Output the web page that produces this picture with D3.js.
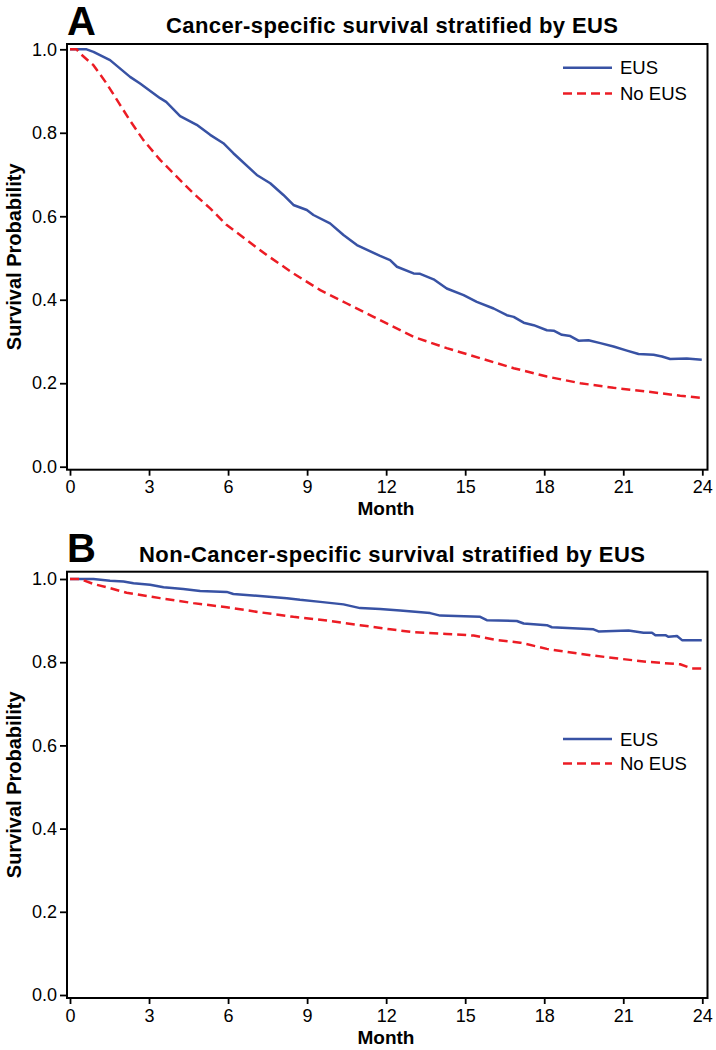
<!DOCTYPE html>
<html>
<head>
<meta charset="utf-8">
<script src="https://cdn.jsdelivr.net/npm/d3@7"></script>
<style>
  html, body { margin: 0; padding: 0; background: #fff; }
  svg { display: block; }
  text { font-family: "Liberation Sans", Arial, Helvetica, sans-serif; fill: #000; }
</style>
</head>
<body>
<svg id="chart" width="716" height="1050"></svg>
<script>
// ---------------- DATA ----------------
const xTicks = [0, 3, 6, 9, 12, 15, 18, 21, 24];
const yTicks = [0.0, 0.2, 0.4, 0.6, 0.8, 1.0];
const seriesNames = ["EUS", "No EUS"];
const panelLetters = ["A", "B"];
const panelTitles = ["Cancer-specific survival stratified by EUS", "Non-Cancer-specific survival stratified by EUS"];
const xLabel = "Month";
const yLabel = "Survival Probability";

// Panel A: cancer-specific survival
const csMonthsEUS = [0, 0.63, 0.89, 1.52, 2.28, 2.66, 3.42, 3.65, 4.18, 4.81, 5.32, 5.82, 6.20, 7.09, 7.60, 8.10, 8.48, 8.99, 9.24, 9.87, 10.38, 10.89, 11.77, 12.15, 12.41, 13.04, 13.29, 13.80, 14.30, 14.94, 15.44, 16.08, 16.58, 16.84, 17.22, 17.60, 18.10, 18.36, 18.67, 18.99, 19.30, 19.68, 20.13, 20.63, 21.14, 21.58, 22.15, 22.47, 22.78, 23.41, 23.98];
const csSurvEUS   = [1, 1, 0.994, 0.974, 0.934, 0.918, 0.883, 0.874, 0.840, 0.819, 0.795, 0.775, 0.751, 0.699, 0.679, 0.651, 0.627, 0.615, 0.603, 0.583, 0.555, 0.531, 0.505, 0.495, 0.479, 0.463, 0.462, 0.449, 0.427, 0.411, 0.395, 0.379, 0.363, 0.359, 0.345, 0.339, 0.327, 0.326, 0.316, 0.313, 0.302, 0.303, 0.296, 0.288, 0.278, 0.270, 0.268, 0.264, 0.258, 0.259, 0.256];
const csMonthsNo  = [0, 0.25, 0.38, 0.89, 1.39, 1.90, 2.28, 2.78, 3.42, 4.05, 4.68, 5.32, 5.95, 6.71, 7.47, 8.48, 9.50, 10.51, 11.52, 12.15, 13.04, 14.30, 15.57, 16.84, 18.10, 19.37, 20.63, 21.90, 23.16, 23.98];
const csSurvNo    = [1, 1, 0.990, 0.962, 0.918, 0.867, 0.829, 0.783, 0.735, 0.695, 0.655, 0.619, 0.579, 0.543, 0.507, 0.463, 0.423, 0.391, 0.359, 0.339, 0.311, 0.284, 0.260, 0.236, 0.216, 0.200, 0.189, 0.180, 0.170, 0.165];

// Panel B: non-cancer-specific survival
const ncsMonthsEUS = [0, 0.89, 1.52, 2.03, 2.41, 3.04, 3.55, 4.30, 4.94, 5.95, 6.20, 7.21, 8.23, 8.73, 9.50, 10.38, 11.01, 11.77, 12.53, 13.67, 14.05, 15.57, 15.82, 16.96, 17.22, 18.10, 18.29, 19.87, 20.06, 21.20, 21.77, 22.09, 22.22, 22.60, 22.72, 23.04, 23.23, 23.98];
const ncsSurvEUS   = [1, 1, 0.996, 0.994, 0.990, 0.986, 0.980, 0.976, 0.971, 0.969, 0.964, 0.959, 0.954, 0.950, 0.945, 0.939, 0.930, 0.928, 0.924, 0.918, 0.912, 0.909, 0.901, 0.899, 0.893, 0.889, 0.884, 0.879, 0.874, 0.876, 0.871, 0.871, 0.865, 0.865, 0.861, 0.863, 0.853, 0.853];
const ncsMonthsNo  = [0, 0.38, 0.89, 1.52, 2.15, 3.42, 4.68, 5.95, 7.21, 8.48, 9.75, 11.01, 12.15, 13.04, 14.30, 15.32, 16.20, 17.09, 18.10, 19.37, 20.63, 21.90, 23.16, 23.60, 23.98];
const ncsSurvNo    = [1, 1, 0.988, 0.978, 0.967, 0.954, 0.942, 0.932, 0.920, 0.909, 0.900, 0.889, 0.879, 0.872, 0.868, 0.864, 0.853, 0.847, 0.832, 0.820, 0.810, 0.801, 0.795, 0.785, 0.785];

// ---------------- LAYOUT ----------------
const colors = ["#3852a4", "#ec1c24"];
const dashes = [null, "9,5"];

const panels = [
  { letter: panelLetters[0], title: panelTitles[0], titleLen: 452,
    series: [d3.zip(csMonthsEUS, csSurvEUS), d3.zip(csMonthsNo, csSurvNo)],
    frameTop: 44, frameBottom: 469.7, yRange: [466.7, 49.3],
    titleY: 33, letterY: 35, legendY: [67.7, 93.5] },
  { letter: panelLetters[1], title: panelTitles[1], titleLen: 506,
    series: [d3.zip(ncsMonthsEUS, ncsSurvEUS), d3.zip(ncsMonthsNo, ncsSurvNo)],
    frameTop: 571.7, frameBottom: 998, yRange: [995, 579],
    titleY: 561.5, letterY: 561.5, legendY: [739, 763.5] }
];

const frameLeft = 67, frameRight = 707.5;
const x = d3.scaleLinear().domain([0, 24]).range([70, 702.3]);

const svg = d3.select("#chart");

panels.forEach(p => {
  const y = d3.scaleLinear().domain([0, 1]).range(p.yRange);
  const g = svg.append("g");

  // letter
  g.append("text").attr("x", 67).attr("y", p.letterY)
    .attr("font-size", 40).attr("font-weight", "bold").text(p.letter);
  // title
  g.append("text").attr("x", 392).attr("y", p.titleY)
    .attr("text-anchor", "middle").attr("font-size", 22).attr("font-weight", "bold")
    .attr("textLength", p.titleLen).attr("lengthAdjust", "spacing").text(p.title);

  // curves
  const line = d3.line().x(d => x(d[0])).y(d => y(d[1]));
  p.series.forEach((s, i) => {
    g.append("path").datum(s).attr("d", line)
      .attr("fill", "none").attr("stroke", colors[i]).attr("stroke-width", 2.5)
      .attr("stroke-linejoin", "round")
      .attr("stroke-dasharray", dashes[i]);
  });

  // axes
  const yAxis = d3.axisLeft(y).tickValues(yTicks).tickFormat(d3.format(".1f")).tickSize(7).tickPadding(3);
  const ya = g.append("g").attr("transform", `translate(${frameLeft},0)`).call(yAxis);
  const xAxis = d3.axisBottom(x).tickValues(xTicks).tickFormat(d3.format("d")).tickSize(6).tickPadding(5);
  const xa = g.append("g").attr("transform", `translate(0,${p.frameBottom})`).call(xAxis);
  [ya, xa].forEach(a => {
    a.select(".domain").remove();
    a.selectAll(".tick line").attr("stroke", "#000").attr("stroke-width", 1.8);
    a.selectAll(".tick text").attr("font-size", 18).attr("fill", "#000")
      .attr("font-family", "\"Liberation Sans\", Arial, sans-serif");
  });

  // frame
  g.append("rect").attr("x", frameLeft).attr("y", p.frameTop)
    .attr("width", frameRight - frameLeft).attr("height", p.frameBottom - p.frameTop)
    .attr("fill", "none").attr("stroke", "#000").attr("stroke-width", 2);

  // axis labels
  g.append("text").attr("x", 386).attr("y", p.frameBottom + 45.5)
    .attr("text-anchor", "middle").attr("font-size", 19).attr("font-weight", "bold").text(xLabel);
  const cy = (p.frameTop + p.frameBottom) / 2;
  g.append("text").attr("transform", `translate(21,${cy}) rotate(-90)`)
    .attr("text-anchor", "middle").attr("font-size", 20).attr("font-weight", "bold").text(yLabel);

  // legend
  seriesNames.forEach((name, i) => {
    const ly = p.legendY[i];
    g.append("line").attr("x1", 563).attr("x2", 612).attr("y1", ly).attr("y2", ly)
      .attr("stroke", colors[i]).attr("stroke-width", 2.5).attr("stroke-dasharray", dashes[i]);
    g.append("text").attr("x", 620).attr("y", ly + 6.5).attr("font-size", 18.5).text(name);
  });
});
</script>
</body>
</html>
